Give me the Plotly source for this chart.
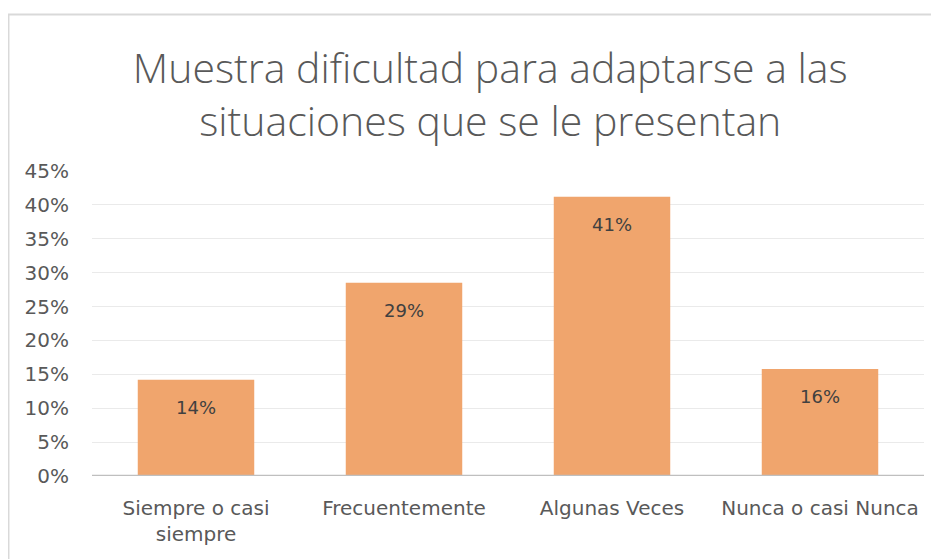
import plotly.graph_objects as go

categories = ["Siempre o casi<br>siempre", "Frecuentemente", "Algunas Veces", "Nunca o casi Nunca"]
values = [0.142, 0.285, 0.412, 0.158]
labels = ["14%", "29%", "41%", "16%"]
tick_vals = [0, 0.05, 0.10, 0.15, 0.20, 0.25, 0.30, 0.35, 0.40, 0.45]
tick_text = ["0%", "5%", "10%", "15%", "20%", "25%", "30%", "35%", "40%", "45%"]
title_text = "Muestra dificultad para adaptarse a las<br>situaciones que se le presentan"

bar_color = "#F0A56D"
text_color = "#595959"

fig = go.Figure()
fig.add_trace(go.Bar(x=categories, y=values, marker=dict(color=bar_color, line=dict(width=0)),
                     hoverinfo="skip"))

for c, v, t in zip(categories, values, labels):
    fig.add_annotation(x=c, y=v, text=t, showarrow=False, yshift=-28,
                       font=dict(family="DejaVu Sans", size=18, color="#404040"))

fig.add_shape(type="rect", xref="paper", yref="paper", x0=-0.1004, x1=1.2, y0=-0.6, y1=1.513,
              line=dict(color="#D9D9D9", width=2), fillcolor="rgba(0,0,0,0)", layer="below")

fig.update_layout(
    width=931, height=551,
    margin=dict(l=84, r=15, t=163, b=83),
    paper_bgcolor="white", plot_bgcolor="white",
    bargap=0.44,
    showlegend=False,
    title=dict(text=title_text, x=0.518, xanchor="center", xref="container", y=0.864, yanchor="top",
               yref="container",
               font=dict(family="Open Sans", size=41, color=text_color, weight=300)),
    xaxis=dict(showline=False, ticks="", tickfont=dict(family="DejaVu Sans", size=20, color=text_color),
               showgrid=False, ticklabelstandoff=18),
    yaxis=dict(range=[0, 0.45], tickvals=tick_vals, ticktext=tick_text, showgrid=True,
               gridcolor="#EAEAEA", gridwidth=1, zeroline=False, showline=False, ticks="",
               tickfont=dict(family="DejaVu Sans", size=20, color=text_color), ticklabelstandoff=22),
)
fig.add_shape(type="line", xref="paper", yref="y", x0=0, x1=1, y0=0, y1=0,
              line=dict(color="#BFBFBF", width=2.5))

fig.write_html("out.html")
